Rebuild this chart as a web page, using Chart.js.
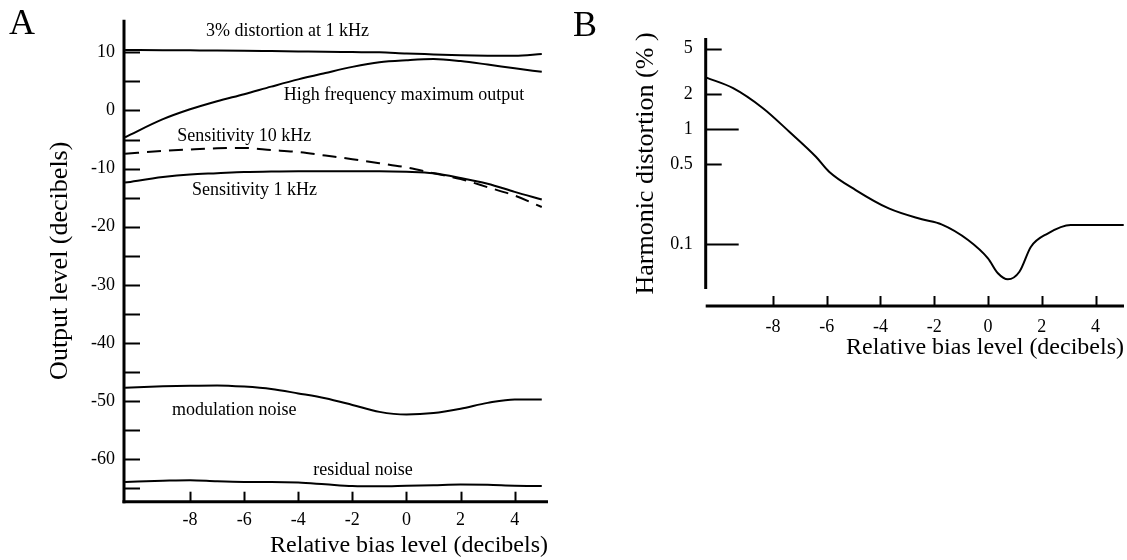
<!DOCTYPE html>
<html><head><meta charset="utf-8">
<script src="https://cdn.jsdelivr.net/npm/chart.js@4.4.1/dist/chart.umd.min.js"></script>
<style>
html,body{margin:0;padding:0;background:#fff;}
#wrap{position:relative;width:1127px;height:560px;overflow:hidden;background:#fff;}
#ca{position:absolute;left:0;top:0;}
#cb{position:absolute;left:560px;top:0;}
.panel{position:absolute;font-family:"Liberation Serif",serif;font-size:36px;color:#000;line-height:1;}
</style></head><body>
<div id="wrap">
<canvas id="ca" width="560" height="560"></canvas>
<canvas id="cb" width="567" height="560"></canvas>
<div class="panel" style="left:9px;top:4px;">A</div>
<div class="panel" style="left:573px;top:6px;">B</div>
</div>
<script>
// ---------- Panel A data ----------
const biasX = [-10.4, -9, -8, -7, -6, -5, -4, -3, -2, -1, 0, 1, 2, 3, 4, 5];
const distortion3pct = [10.4, 10.38, 10.35, 10.32, 10.28, 10.22, 10.16, 10.1, 10.05, 10.0, 9.8, 9.65, 9.5, 9.43, 9.42, 9.72];
const hfMaxOutput = [-4.6, -1.5, 0.2, 1.6, 2.8, 4.1, 5.35, 6.45, 7.5, 8.3, 8.65, 8.85, 8.5, 7.9, 7.25, 6.65];
const sens10k = [-7.45, -6.95, -6.7, -6.5, -6.45, -6.8, -7.15, -7.76, -8.38, -9.07, -9.8, -10.8, -11.8, -13.2, -14.65, -16.6];
const sens1k = [-12.4, -11.45, -11.0, -10.8, -10.6, -10.5, -10.45, -10.45, -10.45, -10.45, -10.55, -10.8, -11.6, -12.6, -14.0, -15.3];
const modNoise = [-47.7, -47.45, -47.35, -47.3, -47.5, -47.9, -48.67, -49.5, -50.65, -51.85, -52.3, -52.05, -51.3, -50.3, -49.7, -49.7];
const residNoise = [-63.9, -63.7, -63.6, -63.8, -63.9, -63.9, -64.0, -64.3, -64.6, -64.65, -64.55, -64.45, -64.35, -64.4, -64.55, -64.6];
const outputTicks = [-65, -60, -55, -50, -45, -40, -35, -30, -25, -20, -15, -10, -5, 0, 5, 10];
const biasTicks = [-8, -6, -4, -2, 0, 2, 4];
const curveLabelTexts = ['3% distortion at 1 kHz', 'High frequency maximum output', 'Sensitivity 10 kHz', 'Sensitivity 1 kHz', 'modulation noise', 'residual noise'];
const curveLabelAnchors = [[-4.4, 13.56], [-0.09, 2.56], [-6.0, -4.48], [-5.62, -13.76], [-6.37, -51.56], [-1.61, -61.87]];

// ---------- Panel B data ----------
const harmX = [-10.47, -9.48, -8.37, -7.39, -6.40, -5.91, -4.92, -3.69, -2.46, -1.73, -0.74, 0, 0.37, 0.74, 1.17, 1.60, 2.22, 3.08, 5.05];
const harmY = [2.80, 2.27, 1.52, 0.95, 0.576, 0.427, 0.296, 0.205, 0.165, 0.149, 0.109, 0.0755, 0.056, 0.0496, 0.0578, 0.0953, 0.124, 0.147, 0.147];
const harmTicks = [0.1, 0.5, 1, 2, 5];
const harmLongTicks = [0.1, 1];

const SERIF = '"Liberation Serif", "Times New Roman", serif';

const handAxes = {
  id: 'handAxes',
  afterDraw(chart, args, o) {
    const {ctx, chartArea: {left, right, top, bottom}, scales: {x, y}} = chart;
    ctx.save();
    ctx.strokeStyle = '#000';
    ctx.lineCap = 'butt';
    const xAxisY = bottom + (o.xAxisGap || 0);
    ctx.lineWidth = o.axisWidth;
    ctx.beginPath();
    ctx.moveTo(left, top);
    ctx.lineTo(left, bottom + (o.xAxisGap ? 0 : o.axisWidth / 2));
    ctx.stroke();
    ctx.beginPath();
    ctx.moveTo(left - (o.xAxisGap ? 0 : o.axisWidth / 2), xAxisY);
    ctx.lineTo(right, xAxisY);
    ctx.stroke();
    ctx.lineWidth = o.tickWidth;
    y.ticks.forEach(t => {
      const py = Math.round(y.getPixelForValue(t.value)) + 0.5;
      const len = o.yTickLen(t.value);
      ctx.beginPath();
      ctx.moveTo(left, py);
      ctx.lineTo(left + len, py);
      ctx.stroke();
    });
    x.ticks.forEach(t => {
      const px = Math.round(x.getPixelForValue(t.value)) + 0.5;
      ctx.beginPath();
      ctx.moveTo(px, xAxisY);
      ctx.lineTo(px, xAxisY - o.xTickLen);
      ctx.stroke();
    });
    ctx.restore();
  }
};

const curveLabels = {
  id: 'curveLabels',
  afterDraw(chart, args, o) {
    if (!o.texts) return;
    const {ctx, scales: {x, y}} = chart;
    ctx.save();
    ctx.fillStyle = '#000';
    ctx.font = o.font;
    ctx.textAlign = 'center';
    ctx.textBaseline = 'middle';
    o.texts.forEach((txt, i) => {
      const [ax, ay] = o.anchors[i];
      ctx.fillText(txt, x.getPixelForValue(ax), y.getPixelForValue(ay));
    });
    ctx.restore();
  }
};

const pts = ys => biasX.map((x, i) => ({x, y: ys[i]}));
const lineStyle = {borderColor: '#000', borderWidth: 2, pointRadius: 0, fill: false, cubicInterpolationMode: 'monotone'};

new Chart(document.getElementById('ca'), {
  type: 'line',
  data: {
    datasets: [
      {label: '3% distortion at 1 kHz', data: pts(distortion3pct), ...lineStyle},
      {label: 'High frequency maximum output', data: pts(hfMaxOutput), ...lineStyle},
      {label: 'Sensitivity 10 kHz', data: pts(sens10k), ...lineStyle, borderDash: [14, 8]},
      {label: 'Sensitivity 1 kHz', data: pts(sens1k), ...lineStyle},
      {label: 'modulation noise', data: pts(modNoise), ...lineStyle},
      {label: 'residual noise', data: pts(residNoise), ...lineStyle}
    ]
  },
  options: {
    responsive: false,
    animation: false,
    layout: {padding: {top: 19, right: 12, left: 0, bottom: 0}},
    plugins: {
      legend: {display: false},
      tooltip: {enabled: false},
      handAxes: {axisWidth: 3, tickWidth: 2, xTickLen: 10, yTickLen: () => 16},
      curveLabels: {texts: curveLabelTexts, anchors: curveLabelAnchors, font: '18px ' + SERIF}
    },
    scales: {
      x: {
        type: 'linear', min: -10.44, max: 5.23,
        afterBuildTicks: s => { s.ticks = biasTicks.map(v => ({value: v})); },
        afterFit: s => { s.height = 58.3; },
        grid: {display: false, drawTicks: false}, border: {display: false},
        ticks: {padding: 8, color: '#000', font: {family: SERIF, size: 18}, autoSkip: false, maxRotation: 0, callback: v => String(v)},
        title: {display: true, text: 'Relative bias level (decibels)', align: 'end', color: '#000', font: {family: SERIF, size: 24}, padding: {top: 0, bottom: 0}}
      },
      y: {
        type: 'linear', min: -67.3, max: 15.6,
        afterBuildTicks: s => { s.ticks = outputTicks.map(v => ({value: v})); },
        afterFit: s => { s.width = 124; },
        grid: {display: false, drawTicks: false}, border: {display: false},
        ticks: {padding: 9, color: '#000', font: {family: SERIF, size: 18}, autoSkip: false, callback: v => (v % 10 === 0 ? String(v) : '')},
        title: {display: true, text: 'Output level (decibels)', color: '#000', font: {family: SERIF, size: 26}, padding: {top: 45, bottom: 0}}
      }
    }
  },
  plugins: [handAxes, curveLabels]
});

new Chart(document.getElementById('cb'), {
  type: 'line',
  data: {
    datasets: [
      {label: 'Harmonic distortion', data: harmX.map((x, i) => ({x, y: harmY[i]})), ...lineStyle}
    ]
  },
  options: {
    responsive: false,
    animation: false,
    layout: {padding: {top: 38, right: 0, left: 0, bottom: 0}},
    plugins: {
      legend: {display: false},
      tooltip: {enabled: false},
      handAxes: {axisWidth: 3, tickWidth: 2, xTickLen: 10, xAxisGap: 17, yTickLen: v => (harmLongTicks.includes(v) ? 33 : 16)},
      curveLabels: {}
    },
    scales: {
      x: {
        type: 'linear', min: -10.5, max: 5.06,
        afterBuildTicks: s => { s.ticks = biasTicks.map(v => ({value: v})); },
        afterFit: s => { s.height = 271; },
        grid: {display: false, drawTicks: false}, border: {display: false},
        ticks: {padding: 27, color: '#000', font: {family: SERIF, size: 18}, autoSkip: false, maxRotation: 0, callback: v => String(v)},
        title: {display: true, text: 'Relative bias level (decibels)', align: 'end', color: '#000', font: {family: SERIF, size: 24}, padding: {top: 0, bottom: 198}}
      },
      y: {
        type: 'logarithmic', min: 0.0409, max: 6.19,
        afterBuildTicks: s => { s.ticks = harmTicks.map(v => ({value: v})); },
        afterFit: s => { s.width = 145.7; },
        grid: {display: false, drawTicks: false}, border: {display: false},
        ticks: {padding: 13, color: '#000', font: {family: SERIF, size: 18}, autoSkip: false, callback: v => String(v)},
        title: {display: true, text: 'Harmonic distortion (% )', color: '#000', font: {family: SERIF, size: 26}, padding: {top: 71, bottom: 0}}
      }
    }
  },
  plugins: [handAxes, curveLabels]
});
</script>
</body></html>
